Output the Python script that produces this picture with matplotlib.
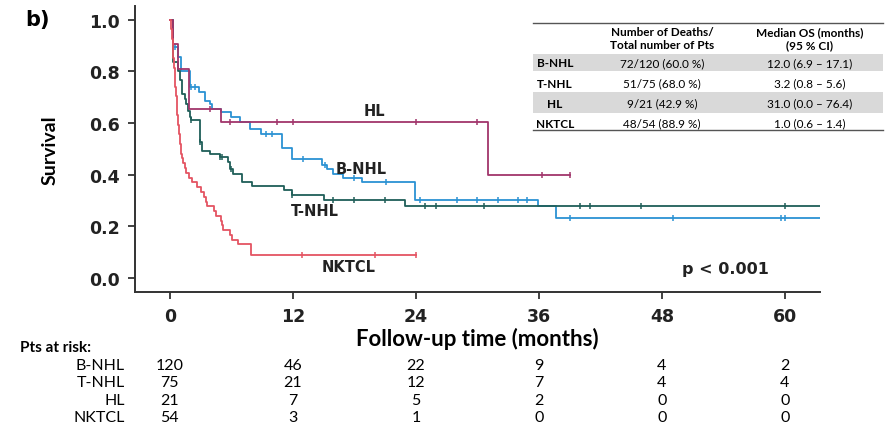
import numpy as np
import matplotlib
matplotlib.use("Agg")
import matplotlib.pyplot as plt
import matplotlib.transforms as mtransforms

# Kaplan-Meier steps: (time in months, survival after step)
bnhl_t = [0, 0.3, 0.8, 1.1, 1.95, 2.8, 3.4, 3.9, 4.07, 5.0, 6.0, 6.8, 7.8, 8.9,
          10.9, 11.9, 14.8, 15.3, 15.9, 16.9, 18.7, 23.9, 35.9, 37.7, 64.0]
bnhl_s = [1.0, 0.894, 0.855, 0.80, 0.74, 0.72, 0.687, 0.674, 0.655, 0.642, 0.623,
          0.603, 0.578, 0.558, 0.503, 0.459, 0.438, 0.422, 0.403, 0.386, 0.373,
          0.303, 0.278, 0.231, 0.231]
bnhl_cens = [0.5, 2.1, 2.5, 9.4, 10.0, 13.0, 15.1, 18.0, 21.1, 24.4, 28.0, 30.0,
             32.0, 34.0, 34.8, 39.0, 49.1, 59.6, 60.0]

tnhl_t = [0, 0.35, 0.8, 1.0, 1.15, 1.45, 1.6, 1.8, 1.95, 2.1, 2.9, 3.1, 3.9, 4.9,
          5.7, 5.9, 6.2, 7.0, 8.0, 11.1, 11.9, 15.0, 22.9, 64.0]
tnhl_s = [1.0, 0.836, 0.80, 0.765, 0.713, 0.694, 0.674, 0.648, 0.623, 0.61, 0.526,
          0.493, 0.48, 0.468, 0.448, 0.422, 0.403, 0.373, 0.355, 0.339, 0.322,
          0.303, 0.28, 0.28]
tnhl_cens = [2.1, 2.9, 4.9, 5.1, 6.0, 11.9, 15.9, 18.0, 21.0, 24.9, 26.0, 30.6,
             40.0, 41.0, 46.0, 60.0]

hl_t = [0, 0.3, 0.8, 1.9, 5.0, 31.0, 39.0]
hl_s = [1.0, 0.905, 0.81, 0.655, 0.605, 0.40, 0.40]
hl_cens = [3.9, 5.85, 10.5, 12.0, 24.0, 30.0, 36.3, 39.0]

nk_t = [0, 0.1, 0.2, 0.28, 0.35, 0.42, 0.48, 0.55, 0.62, 0.68, 0.74, 0.8, 0.88,
        0.95, 1.05, 1.2, 1.3, 1.45, 1.6, 1.9, 2.2, 2.6, 3.0, 3.3, 3.5, 3.65, 4.3,
        4.5, 5.0, 5.1, 5.2, 5.9, 6.1, 6.6, 7.9, 24.0]
nk_s = [1.0, 0.963, 0.926, 0.889, 0.852, 0.815, 0.778, 0.741, 0.704, 0.667, 0.630,
        0.593, 0.556, 0.519, 0.481, 0.463, 0.444, 0.426, 0.407, 0.389, 0.370,
        0.352, 0.333, 0.315, 0.296, 0.278, 0.259, 0.241, 0.222, 0.204, 0.185,
        0.167, 0.148, 0.130, 0.089, 0.089]
nk_cens = [12.9, 20.0, 24.0]

groups = ["B-NHL", "T-NHL", "HL", "NKTCL"]
colors = ["#2b92d3", "#1f5e58", "#a1356b", "#e45462"]

risk_times = [0, 12, 24, 36, 48, 60]
risk_counts = {
    "B-NHL": [120, 46, 22, 9, 4, 2],
    "T-NHL": [75, 21, 12, 7, 4, 4],
    "HL": [21, 7, 5, 2, 0, 0],
    "NKTCL": [54, 3, 1, 0, 0, 0],
}

table_deaths = ["72/120 (60.0 %)", "51/75 (68.0 %)", "9/21 (42.9 %)", "48/54 (88.9 %)"]
table_median = ["12.0 (6.9 \u2013 17.1)", "3.2 (0.8 \u2013 5.6)",
                "31.0 (0.0 \u2013 76.4)", "1.0 (0.6 \u2013 1.4)"]

curve_labels = {"HL": (20.0, 0.65), "B-NHL": (18.7, 0.425),
                "T-NHL": (14.1, 0.26), "NKTCL": (17.4, 0.045)}

SANS = "Lato"

fig = plt.figure(figsize=(8.94, 4.27), dpi=100)
ax = fig.add_axes([0.151, 0.314, 0.766, 0.67])

curves = [(bnhl_t, bnhl_s, bnhl_cens), (tnhl_t, tnhl_s, tnhl_cens),
          (hl_t, hl_s, hl_cens), (nk_t, nk_s, nk_cens)]
for (t, s, c), col in zip(curves, colors):
    ax.step(t, s, where="post", color=col, lw=1.3)
    idx = np.searchsorted(t, c, side="right") - 1
    ax.plot(c, np.array(s)[idx], ls="none", marker="|", ms=4.5, mew=1.1, color=col)

for name, (x, y) in curve_labels.items():
    ax.text(x, y, name, ha="center", va="center", fontsize=10.5,
            fontweight="bold", color="#222222")
ax.text(54.2, 0.035, "p < 0.001", ha="center", va="center", fontsize=11.5,
        fontweight="bold", color="#222222")

ax.set_xlim(-3.4, 63.4)
ax.set_ylim(-0.054, 1.054)
ax.set_xticks(risk_times)
ax.set_yticks([0.0, 0.2, 0.4, 0.6, 0.8, 1.0])
ax.set_yticklabels(["0.0", "0.2", "0.4", "0.6", "0.8", "1.0"])
for lab in ax.get_xticklabels() + ax.get_yticklabels():
    lab.set_fontweight("bold")
    lab.set_fontsize(12.5)
    lab.set_color("#222222")
ax.tick_params(direction="out", length=5, width=1.3, color="#333333", pad=6)
for side in ["top", "right"]:
    ax.spines[side].set_visible(False)
for side in ["left", "bottom"]:
    ax.spines[side].set_linewidth(1.4)
    ax.spines[side].set_color("#333333")

ax.set_ylabel("Survival", fontsize=14, fontweight="bold", family=SANS, labelpad=22)
ax.set_xlabel("Follow-up time (months)", fontsize=16, fontweight="bold",
              family=SANS, labelpad=1)

fig.text(0.028, 0.953, "b)", fontsize=15, fontweight="bold", va="center")

# summary table (figure pixel coords)
def fx(px):
    return px / 894.0

def fy(py):
    return 1 - py / 427.0

tl, tr = fx(533), fx(883)
col_x = [fx(555), fx(662), fx(810)]
fig.add_artist(plt.Line2D([tl, tr], [fy(24), fy(24)], color="#555555", lw=1.0))
fig.add_artist(plt.Line2D([tl, tr], [fy(131), fy(131)], color="#555555", lw=1.0))
for y0, y1 in [(55, 72), (93, 114)]:
    fig.add_artist(plt.Rectangle((tl, fy(y1)), tr - tl, fy(y0) - fy(y1),
                                 color="#d9d9d9", lw=0))
fig.text(col_x[1], fy(39), "Number of Deaths/\nTotal number of Pts", ha="center",
         va="center", fontsize=8.5, fontweight="bold", family=SANS,
         linespacing=1.2)
fig.text(col_x[2], fy(39), "Median OS (months)\n(95 % CI)", ha="center",
         va="center", fontsize=8.5, fontweight="bold", family=SANS,
         linespacing=1.2)
row_y = [63.5, 84, 104, 124]
for g, d, m, yy in zip(groups, table_deaths, table_median, row_y):
    fig.text(col_x[0], fy(yy), g, ha="center", va="center", fontsize=8.5,
             fontweight="bold", family=SANS)
    fig.text(col_x[1], fy(yy), d, ha="center", va="center", fontsize=8.5, family=SANS)
    fig.text(col_x[2], fy(yy), m, ha="center", va="center", fontsize=8.5, family=SANS)

# numbers at risk
trans = mtransforms.blended_transform_factory(ax.transData, fig.transFigure)
fig.text(fx(20), fy(348), "Pts at risk:", ha="left", va="center", fontsize=11,
         fontweight="bold", family=SANS)
risk_y = [366, 383, 401, 418]
for g, yy in zip(groups, risk_y):
    fig.text(fx(125), fy(yy), g, ha="right", va="center", fontsize=11.5, family=SANS)
    for t, n in zip(risk_times, risk_counts[g]):
        ax.text(t, fy(yy), str(n), transform=trans, ha="center", va="center",
                fontsize=11.5, family=SANS, clip_on=False)

fig.savefig("out.png", dpi=100)
